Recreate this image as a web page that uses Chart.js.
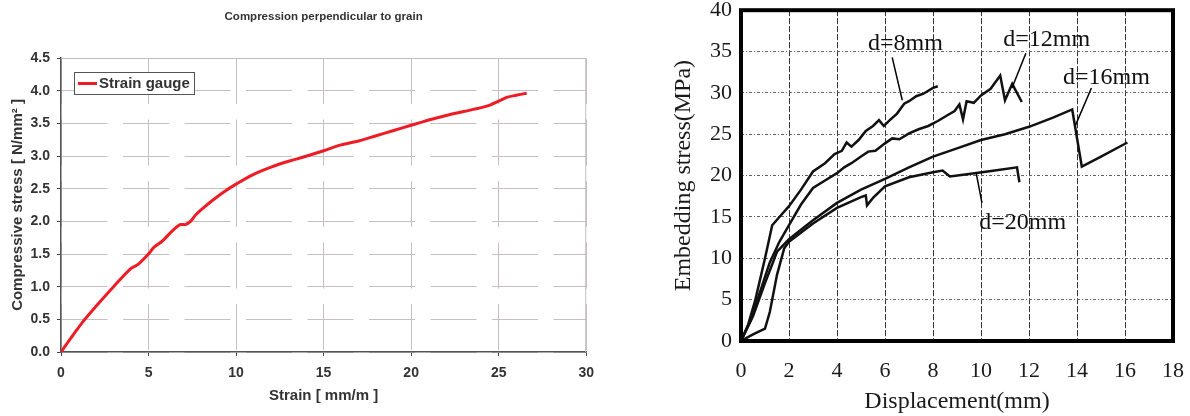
<!DOCTYPE html>
<html>
<head>
<meta charset="utf-8">
<script src="https://cdn.jsdelivr.net/npm/chart.js@4.4.1/dist/chart.umd.min.js"></script>
<style>
    html, body { margin: 0; padding: 0; background: #fff; width: 1190px; height: 416px; overflow: hidden; }
    #left { position: absolute; left: 0; top: 0; width: 603px; height: 416px; }
    #right { position: absolute; left: 640px; top: -12px; width: 561px; height: 428px; }
</style>
</head>
<body>
<div id="left"><canvas id="strainChart" width="603" height="416"></canvas></div>
<div id="right"><canvas id="embedChart" width="561" height="428"></canvas></div>
<script>
// Left chart: strain gauge curve
const strainX = [0, 0.5, 1.3, 2.0, 3.0, 4.0, 4.4, 5.0, 5.3, 5.8, 6.3, 6.8, 7.1, 7.4, 7.7, 8.2, 8.7, 9.3, 10, 11, 12, 13, 13.8, 15, 16, 17, 18, 19, 20, 20.5, 21, 22, 23, 24, 24.5, 25, 25.5, 26, 26.6];
const stressY = [0, 0.19, 0.48, 0.7, 1.0, 1.28, 1.34, 1.5, 1.6, 1.7, 1.84, 1.95, 1.95, 2.0, 2.1, 2.22, 2.33, 2.45, 2.57, 2.72, 2.83, 2.92, 2.98, 3.08, 3.17, 3.23, 3.31, 3.39, 3.47, 3.51, 3.55, 3.62, 3.68, 3.74, 3.78, 3.84, 3.9, 3.93, 3.96];

// Right chart: embedding stress vs displacement
const d8X = [0, 0.3, 0.6, 1.0, 1.3, 1.6, 2.0, 2.5, 3.0, 3.5, 3.9, 4.2, 4.4, 4.6, 4.9, 5.2, 5.5, 5.75, 5.95, 6.2, 6.5, 6.8, 7.0, 7.3, 7.6, 8.0, 8.2];
const d8Y = [0, 2.0, 5.0, 10.0, 14.0, 15.0, 16.3, 18.3, 20.5, 21.5, 22.6, 23.0, 24.0, 23.5, 24.3, 25.4, 26.0, 26.7, 26.0, 26.7, 27.5, 28.7, 29.0, 29.6, 29.9, 30.6, 30.8];
const d12X = [0, 0.4, 0.8, 1.2, 1.6, 2.0, 2.5, 3.0, 3.5, 4.0, 4.3, 4.6, 5.0, 5.3, 5.6, 6.0, 6.3, 6.6, 7.0, 7.4, 7.8, 8.2, 8.6, 8.9, 9.1, 9.25, 9.4, 9.7, 10.0, 10.4, 10.8, 11.0, 11.3, 11.7];
const d12Y = [0, 2.5, 6.0, 9.5, 12.0, 14.0, 16.5, 18.5, 19.4, 20.3, 21.0, 21.5, 22.3, 22.9, 23.0, 23.9, 24.5, 24.4, 25.1, 25.6, 26.0, 26.6, 27.3, 27.8, 28.6, 26.8, 29.0, 28.8, 29.7, 30.5, 32.1, 29.1, 31.1, 28.9];
const d16X = [0, 0.5, 1.0, 1.5, 2.0, 3.0, 4.0, 5.0, 6.0, 7.0, 8.0, 9.0, 10.0, 11.0, 12.0, 13.0, 13.8, 14.2, 15.0, 16.1];
const d16Y = [0, 3.0, 7.0, 10.8, 12.3, 14.6, 16.7, 18.3, 19.6, 21.0, 22.3, 23.3, 24.3, 25.0, 25.9, 27.0, 28.0, 21.1, 22.3, 24.0];
const d20X = [0, 0.5, 1.0, 1.2, 1.5, 1.8, 2.0, 3.0, 4.0, 5.0, 5.2, 5.25, 5.5, 6.0, 7.0, 8.0, 8.4, 8.7, 9.5, 10.5, 11.5, 11.6];
const d20Y = [0, 0.8, 1.5, 3.5, 8.0, 11.2, 12.0, 14.2, 16.1, 17.4, 17.6, 16.4, 17.3, 18.7, 19.8, 20.4, 20.6, 19.9, 20.2, 20.6, 21.0, 19.2];

// curve labels with leader lines (data units)
const labelText = ["d=8mm", "d=12mm", "d=16mm", "d=20mm"];
const labelX = [6.85, 12.74, 15.23, 11.74];
const labelY = [36.0, 36.4, 31.8, 14.3];
const leaderFromX = [6.3, 11.87, 14.6, 9.8];
const leaderFromY = [34.3, 34.8, 30.6, 20.3];
const leaderToX = [6.72, 11.29, 13.94, 10.04];
const leaderToY = [29.1, 30.6, 26.1, 16.7];

function toPoints(xs, ys) {
    return xs.map((x, i) => ({ x: x, y: ys[i] }));
}

const SANS = "'Liberation Sans', Arial, sans-serif";
const SERIF = "'Liberation Serif', 'Times New Roman', serif";

// ---------- left chart ----------
const leftDecor = {
    id: "leftDecor",
    beforeDatasetsDraw(chart) {
        const { ctx, chartArea: a } = chart;
        ctx.save();
        ctx.strokeStyle = "#c4bcbc";
        ctx.lineWidth = 1;
        ctx.beginPath();
        ctx.moveTo(a.left, a.top + 0.5);
        ctx.lineTo(a.right - 0.5, a.top + 0.5);
        ctx.lineTo(a.right - 0.5, a.bottom);
        ctx.stroke();
        ctx.restore();
    },
    afterDraw(chart) {
        const { ctx, chartArea: a } = chart;
        const ds = chart.data.datasets[0];
        ctx.save();
        // title
        ctx.fillStyle = "#333";
        ctx.font = "bold 11.5px " + SANS;
        ctx.textAlign = "center";
        ctx.textBaseline = "middle";
        ctx.fillText("Compression perpendicular to grain", (a.left + a.right) / 2, 17);
        // legend box
        const bx = a.left + 13, by = a.top + 14, bw = 120, bh = 22;
        ctx.fillStyle = "#fff";
        ctx.fillRect(bx, by, bw, bh);
        ctx.strokeStyle = "#555";
        ctx.lineWidth = 1;
        ctx.strokeRect(bx + 0.5, by + 0.5, bw, bh);
        ctx.strokeStyle = ds.borderColor;
        ctx.lineWidth = 3;
        ctx.beginPath();
        ctx.moveTo(bx + 4, by + 11.5);
        ctx.lineTo(bx + 23, by + 11.5);
        ctx.stroke();
        ctx.fillStyle = "#333";
        ctx.font = "bold 15px " + SANS;
        ctx.textAlign = "left";
        ctx.fillText(ds.label, bx + 25, by + 12);
        ctx.restore();
    }
};

new Chart(document.getElementById("strainChart"), {
    type: "scatter",
    data: {
        datasets: [{
            label: "Strain gauge",
            data: toPoints(strainX, stressY),
            showLine: true,
            borderColor: "#ee1c24",
            borderWidth: 3,
            pointRadius: 0,
            tension: 0.3
        }]
    },
    options: {
        responsive: false,
        animation: false,
        layout: { padding: { left: 0, right: 14, top: 58, bottom: 0 } },
        plugins: {
            legend: { display: false },
            tooltip: { enabled: false },
            title: { display: false }
        },
        scales: {
            x: {
                type: "linear",
                min: 0,
                max: 30,
                ticks: { stepSize: 5, color: "#333", padding: 9, font: { family: SANS, size: 14, weight: "bold" } },
                grid: { color: "#c8c0c0", tickColor: "#444", tickLength: 4 },
                border: { color: "#555", width: 1.5, dash: [46, 15.5] },
                title: {
                    display: true, text: "Strain [ mm/m ]", color: "#333",
                    font: { family: SANS, size: 15, weight: "bold" }, padding: { top: 0, bottom: 11 }
                },
                afterFit: function (scale) { scale.height = 64; }
            },
            y: {
                min: 0,
                max: 4.5,
                ticks: {
                    stepSize: 0.5, color: "#333", padding: 7,
                    font: { family: SANS, size: 14, weight: "bold" },
                    callback: v => v.toFixed(1)
                },
                grid: { color: "#c8c0c0", tickColor: "#444", tickLength: 4 },
                border: { color: "#555", width: 1.5, dash: [46, 15.5] },
                title: {
                    display: true, text: "Compressive stress [ N/mm² ]", color: "#333",
                    font: { family: SANS, size: 15, weight: "bold" }, padding: { top: 9, bottom: 0 }
                },
                afterFit: function (scale) { scale.width = 61; }
            }
        }
    },
    plugins: [leftDecor]
});

// ---------- right chart ----------
const rightDecor = {
    id: "rightDecor",
    afterDraw(chart) {
        const { ctx, chartArea: a, scales } = chart;
        ctx.save();
        ctx.strokeStyle = "#000";
        ctx.lineWidth = 4;
        ctx.strokeRect(a.left, a.top, a.right - a.left, a.bottom - a.top);
        // labels and leader lines
        ctx.lineWidth = 1.5;
        ctx.fillStyle = "#111";
        ctx.font = "24px " + SERIF;
        ctx.textAlign = "center";
        ctx.textBaseline = "middle";
        labelText.forEach((t, i) => {
            ctx.beginPath();
            ctx.moveTo(scales.x.getPixelForValue(leaderFromX[i]), scales.y.getPixelForValue(leaderFromY[i]));
            ctx.lineTo(scales.x.getPixelForValue(leaderToX[i]), scales.y.getPixelForValue(leaderToY[i]));
            ctx.stroke();
            ctx.fillText(t, scales.x.getPixelForValue(labelX[i]), scales.y.getPixelForValue(labelY[i]));
        });
        ctx.restore();
    }
};

const curveStyle = { showLine: true, borderColor: "#111", borderWidth: 2.5, pointRadius: 0, tension: 0 };

new Chart(document.getElementById("embedChart"), {
    type: "scatter",
    data: {
        datasets: [
            Object.assign({ label: "d=8mm", data: toPoints(d8X, d8Y) }, curveStyle),
            Object.assign({ label: "d=12mm", data: toPoints(d12X, d12Y) }, curveStyle),
            Object.assign({ label: "d=16mm", data: toPoints(d16X, d16Y) }, curveStyle),
            Object.assign({ label: "d=20mm", data: toPoints(d20X, d20Y) }, curveStyle)
        ]
    },
    options: {
        responsive: false,
        animation: false,
        layout: { padding: { left: 0, right: 0, top: 0, bottom: 0 } },
        plugins: {
            legend: { display: false },
            tooltip: { enabled: false }
        },
        scales: {
            x: {
                type: "linear",
                min: 0,
                max: 18,
                ticks: { stepSize: 2, color: "#1a1a1a", padding: 17, font: { family: SERIF, size: 22 } },
                grid: { color: "#333", drawTicks: false, lineWidth: 1 },
                border: { display: false, dash: [6, 2] },
                title: {
                    display: true, text: "Displacement(mm)", color: "#1a1a1a",
                    font: { family: SERIF, size: 24 }, padding: { top: 0, bottom: 0 }
                },
                afterFit: function (scale) { scale.height = 75; }
            },
            y: {
                min: 0,
                max: 40,
                ticks: { stepSize: 5, color: "#1a1a1a", padding: 9, font: { family: SERIF, size: 22 } },
                grid: { color: "#666", drawTicks: false, lineWidth: 1 },
                border: { display: false, dash: [3, 2, 1, 2] },
                title: {
                    display: true, text: "Embedding stress(MPa)", color: "#1a1a1a",
                    font: { family: SERIF, size: 24 }, padding: { top: 29, bottom: 0 }
                },
                afterFit: function (scale) { scale.width = 101; }
            }
        }
    },
    plugins: [rightDecor]
});
</script>
</body>
</html>
